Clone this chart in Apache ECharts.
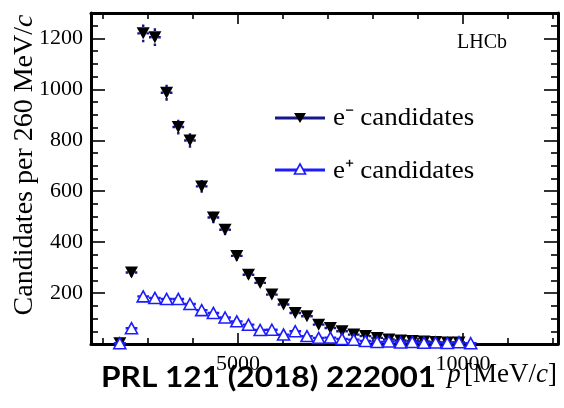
<!DOCTYPE html>
<html><head><meta charset="utf-8">
<script src="https://cdn.jsdelivr.net/npm/echarts@6/dist/echarts.min.js"></script>
<style>html,body{margin:0;padding:0;background:#fff}#c{width:564px;height:408px}</style>
</head><body><div id="c"></div>
<script>
// ---- data ----
const momentum = [2370, 2630, 2890, 3150, 3410, 3670, 3930, 4190, 4450, 4710, 4970, 5230, 5490, 5750, 6010, 6270, 6530, 6790, 7050, 7310, 7570, 7830, 8090, 8350, 8610, 8870, 9130, 9390, 9650, 9910, 10170];
const eMinusCounts = [3, 281, 1220, 1205, 987, 852, 799, 619, 497, 449, 346, 272, 240, 194, 155, 122, 109, 76, 63, 50, 37, 31, 24, 18, 14, 12, 10, 8, 6, 6];
const ePlusCounts = [3, 62, 187, 181, 177, 177, 157, 133, 122, 104, 89, 76, 55, 56, 37, 50, 31, 24, 25, 20, 17, 12, 8, 10, 6, 8, 5, 6, 4, 7, 3];
const yMinorTicks = [50, 100, 150, 250, 300, 350, 450, 500, 550, 650, 700, 750, 850, 900, 950, 1050, 1100, 1150, 1250];
const xMajorTicks = [5000, 10000];
const xMinorTicks = [2000, 3000, 4000, 6000, 7000, 8000, 9000, 11000, 12000];

const X_MIN = 1730, X_MAX = 12110, Y_MIN = 0, Y_MAX = 1300, Y_STEP = 200, BIN_HALF = 130;
const SERIF = 'Liberation Serif';
const NAVY = '#17178a', BLUE = '#1c1cff';

const chart = echarts.init(document.getElementById('c'));

function points(counts) { return counts.map((v, i) => [momentum[i], v]); }
function errPoints(counts) { return counts.map((v, i) => [momentum[i], v, Math.sqrt(v)]); }

function errRender(color) {
  return function (params, api) {
    const x = api.value(0), y = api.value(1), e = api.value(2);
    const c = api.coord([x, y]);
    const l = api.coord([x - BIN_HALF, y]), r = api.coord([x + BIN_HALF, y]);
    const t = api.coord([x, y + e]), b = api.coord([x, Math.max(0, y - e)]);
    const st = { stroke: color, lineWidth: 2.4, lineDash: [2.6, 3] };
    const seg = (p) => ({ type: 'line', shape: { x1: p[0], y1: p[1], x2: c[0], y2: c[1] }, style: st });
    return { type: 'group', children: [seg(l), seg(r), seg(t), seg(b)] };
  };
}

const labelStyle = { color: '#000', fontFamily: SERIF, fontSize: 22, fontWeight: 'normal' };

function xAxisDef(pos, ticks, len, showLine, labels) {
  return {
    type: 'value', position: pos, min: X_MIN, max: X_MAX,
    axisLine: { show: showLine, onZero: false, lineStyle: { color: '#000', width: 3 } },
    axisTick: { show: true, inside: true, length: len, customValues: ticks, lineStyle: { color: '#000', width: 1.6 } },
    axisLabel: labels ? Object.assign({ show: true, customValues: ticks, formatter: (v) => String(Math.round(v)), margin: 9 }, labelStyle) : { show: false },
    splitLine: { show: false }
  };
}
function yAxisDef(pos, major, showLine, labels) {
  return {
    type: 'value', position: pos, min: Y_MIN, max: Y_MAX, interval: major ? Y_STEP : undefined,
    axisLine: { show: showLine, onZero: false, lineStyle: { color: '#000', width: 3 } },
    axisTick: major ? { show: true, inside: true, length: 14, lineStyle: { color: '#000', width: 1.6 } }
                    : { show: true, inside: true, length: 7, customValues: yMinorTicks, lineStyle: { color: '#000', width: 1.6 } },
    axisLabel: labels ? Object.assign({ show: true, showMinLabel: false, showMaxLabel: false, formatter: (v) => (v % Y_STEP === 0 ? String(v) : ''), margin: 8 }, labelStyle) : { show: false },
    splitLine: { show: false }
  };
}

const option = {
  backgroundColor: '#fff',
  animation: false,
  grid: { left: 91, right: 6, top: 13, bottom: 64, containLabel: false },
  xAxis: [
    xAxisDef('bottom', xMajorTicks, 11, true, true),
    xAxisDef('bottom', xMinorTicks, 6, false, false),
    xAxisDef('top', xMajorTicks, 11, true, false),
    xAxisDef('top', xMinorTicks, 6, false, false)
  ],
  yAxis: [
    yAxisDef('left', true, true, true),
    yAxisDef('left', false, false, false),
    yAxisDef('right', true, true, false),
    yAxisDef('right', false, false, false)
  ],
  series: [
    { name: 'e⁻ errors', type: 'custom', xAxisIndex: 0, yAxisIndex: 0, renderItem: errRender(NAVY), data: errPoints(eMinusCounts), z: 2, silent: true },
    { name: 'e⁺ errors', type: 'custom', xAxisIndex: 0, yAxisIndex: 0, renderItem: errRender(BLUE), data: errPoints(ePlusCounts), z: 2, silent: true },
    { name: 'e⁻ candidates', type: 'scatter', xAxisIndex: 0, yAxisIndex: 0, data: points(eMinusCounts),
      symbol: 'triangle', symbolRotate: 180, symbolSize: [13, 12], itemStyle: { color: '#000', opacity: 1 }, z: 5 },
    { name: 'e⁺ candidates', type: 'scatter', xAxisIndex: 0, yAxisIndex: 0, data: points(ePlusCounts),
      symbol: 'triangle', symbolSize: [12, 11], itemStyle: { color: '#fff', borderColor: BLUE, borderWidth: 1.6, opacity: 1 }, z: 6 }
  ],
  graphic: [
    { type: 'text', x: 25, y: 165, rotation: Math.PI / 2, style: { text: '{n|Candidates per 260 MeV/}{i|c}', textAlign: 'center', textVerticalAlign: 'middle',
        rich: { n: { fontFamily: SERIF, fontSize: 28, fill: '#000' }, i: { fontFamily: SERIF, fontSize: 28, fontStyle: 'italic', fill: '#000' } } } },
    { type: 'text', x: 557, y: 375, style: { text: '{i|p} {n|[MeV/}{i|c}{n|]}', textAlign: 'right', textVerticalAlign: 'middle',
        rich: { n: { fontFamily: SERIF, fontSize: 27, fill: '#000' }, i: { fontFamily: SERIF, fontSize: 27, fontStyle: 'italic', fill: '#000' } } } },
    { type: 'text', x: 482, y: 43, style: { text: 'LHCb', textAlign: 'center', textVerticalAlign: 'middle', font: '20px ' + SERIF, fill: '#000' } },
    { type: 'line', shape: { x1: 275, y1: 118, x2: 325, y2: 118 }, style: { stroke: NAVY, lineWidth: 3 } },
    { type: 'polygon', shape: { points: [[294, 113], [306, 113], [300, 123]] }, style: { fill: '#000' } },
    { type: 'text', x: 333, y: 118, scaleX: 1.08, style: { text: 'e⁻ candidates', textVerticalAlign: 'middle', font: '25px ' + SERIF, fill: '#000' } },
    { type: 'line', shape: { x1: 275, y1: 170, x2: 325, y2: 170 }, style: { stroke: BLUE, lineWidth: 3 } },
    { type: 'polygon', shape: { points: [[300, 164], [305.5, 174], [294.5, 174]] }, style: { fill: '#fff', stroke: BLUE, lineWidth: 1.6 } },
    { type: 'text', x: 333, y: 171, scaleX: 1.08, style: { text: 'e⁺ candidates', textVerticalAlign: 'middle', font: '25px ' + SERIF, fill: '#000' } },
    { type: 'text', x: 101, y: 378, z: 100, scaleX: 1.09, style: { text: 'PRL 121 (2018) 222001', textVerticalAlign: 'middle', font: 'bold 29px Lato', fill: '#000' } }
  ]
};
chart.setOption(option);
</script>
</body></html>
